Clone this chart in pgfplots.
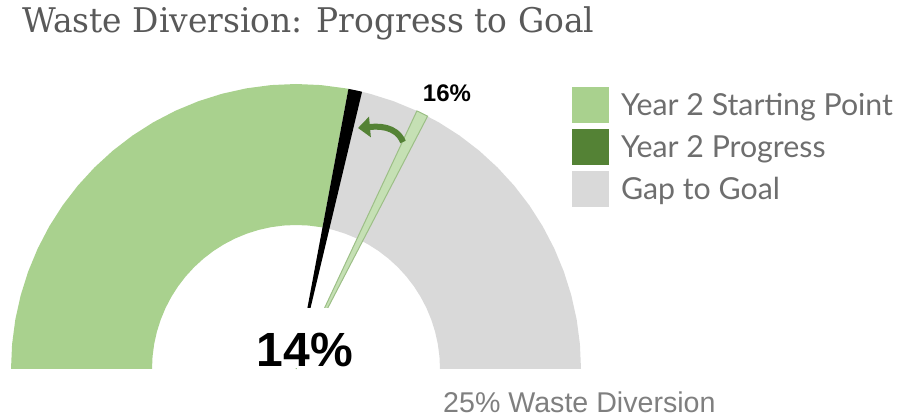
\documentclass[border=0pt]{standalone}
\usepackage{pgfplots}
\pgfplotsset{compat=1.18}
\usepackage{fontspec}
\setmainfont{Liberation Sans}
\newfontfamily\titlefont{DejaVu Serif}
\newfontfamily\legfont{Lato}
\usetikzlibrary{arrows.meta}
\definecolor{startgreen}{HTML}{A9D18E}
\definecolor{progressgreen}{HTML}{548235}
\definecolor{gapgray}{HTML}{D9D9D9}
\definecolor{goalgreen}{HTML}{C5E0B4}
\definecolor{goaledge}{HTML}{9CBF86}
\definecolor{titlegray}{HTML}{595959}
\definecolor{leggray}{HTML}{6E6E6E}
\definecolor{notegray}{HTML}{7F7F7F}
\begin{document}
\begin{tikzpicture}
\begin{axis}[
  scale only axis, width=902pt, height=419pt,
  xmin=-296, xmax=606, ymin=-50, ymax=369,
  hide axis, clip=false,
  legend style={at={(axis cs:276,282)}, anchor=north west, draw=none, fill=none,
    inner sep=0pt, outer sep=0pt, font=\legfont\fontsize{30.3}{36}\selectfont,
    text=leggray, row sep=6pt,
    /tikz/every odd column/.append style={column sep=10pt}},
  legend cell align=left,
  legend image code/.code={\fill[#1, draw=none] (0pt,-18pt) rectangle (37pt,18pt);},
]
% Year 2 starting point (green band, 180 deg -> 79.4 deg)
\addplot[fill=startgreen, draw=none, data cs=polar, forget plot] coordinates {
 (180,285) (175,285) (170,285) (165,285) (160,285) (155,285) (150,285) (145,285)
 (140,285) (135,285) (130,285) (125,285) (120,285) (115,285) (110,285) (105,285)
 (100,285) (95,285) (90,285) (85,285) (80,285) (79.4,285)
 (79.4,144) (80,144) (85,144) (90,144) (95,144) (100,144) (105,144) (110,144)
 (115,144) (120,144) (125,144) (130,144) (135,144) (140,144) (145,144) (150,144)
 (155,144) (160,144) (165,144) (170,144) (175,144) (180,144)
} -- cycle;
% Gap to goal (gray band)
\addplot[fill=gapgray, draw=none, data cs=polar, forget plot] coordinates {
 (78,285) (75,285) (70,285) (65,285) (60,285) (55,285) (50,285) (45,285) (40,285)
 (35,285) (30,285) (25,285) (20,285) (15,285) (10,285) (5,285) (0,285)
 (0,144) (5,144) (10,144) (15,144) (20,144) (25,144) (30,144) (35,144) (40,144)
 (45,144) (50,144) (55,144) (60,144) (65,144) (70,144) (75,144) (78,144)
} -- cycle;
% Year 2 progress needle (14%)
\addplot[fill=black, draw=none, data cs=polar, forget plot] coordinates {
 (0,0) (79.4,285) (78,285) (76.6,285)
} -- cycle;
% Goal needle (16%)
\addplot[fill=goalgreen, draw=goaledge, line width=1pt, data cs=polar, forget plot] coordinates {
 (0,0) (64.9,285) (63.7,285) (62.5,285)
} -- cycle;

\addlegendimage{fill=startgreen}
\addlegendentry{Year 2 Starting Point}
\addlegendimage{fill=progressgreen}
\addlegendentry{Year 2 Progress}
\addlegendimage{fill=gapgray}
\addlegendentry{Gap to Goal}

% arrow
\draw[progressgreen, line width=6pt, -{Triangle[length=12pt,width=20pt]}]
  (axis cs:107,227) to[out=112, in=5] (axis cs:62,241);

% labels
\node[anchor=base, fill=white, inner sep=0pt, text height=59pt, text depth=1pt,
      minimum width=100pt, font=\bfseries\fontsize{48}{56}\selectfont]
  at (axis cs:9,2) {14\%};
\node[anchor=base, font=\bfseries\fontsize{24}{28}\selectfont]
  at (axis cs:151,267) {16\%};
\node[anchor=base west, inner sep=0pt, text=notegray, font=\fontsize{28.6}{32}\selectfont]
  at (axis cs:147,-44) {25\% Waste Diversion};
\node[anchor=base west, inner sep=0pt, text=titlegray, font=\titlefont\fontsize{34}{40}\selectfont]
  at (axis cs:-274,336) {\resizebox{572pt}{\height}{Waste Diversion: Progress to Goal}};

\path (rel axis cs:0,0) rectangle (rel axis cs:1,1);
\end{axis}
\end{tikzpicture}
\end{document}
